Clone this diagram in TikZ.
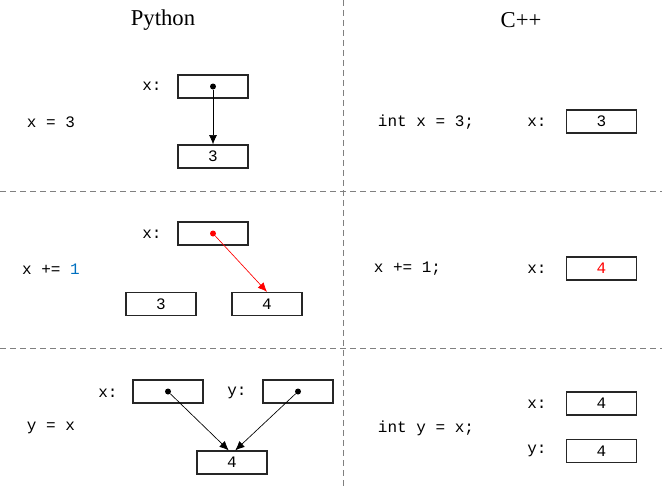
\documentclass[tikz,border=0pt]{standalone}
\usepackage{fontspec}
\setmainfont{Liberation Serif}
\setmonofont{Liberation Mono}
\usetikzlibrary{arrows.meta}

\tikzset{
  cell/.style={draw=black!85, line width=0.9pt, minimum width=52.5pt, minimum height=17.25pt, inner sep=0pt, font=\ttfamily\fontsize{12}{14}\selectfont},
  code/.style={font=\ttfamily\fontsize{12}{14}\selectfont, inner sep=0pt},
  head/.style={font=\fontsize{17}{20}\selectfont, inner sep=0pt},
  dot/.style={circle, fill=black, minimum size=4.5pt, inner sep=0pt},
  ptr/.style={-{Latex[length=7pt,width=6pt]}, line width=0.5pt},
  sep/.style={gray, line width=0.75pt, dash pattern=on 4.5pt off 3pt}
}

\begin{document}
\begin{tikzpicture}[x=0.75pt, y=-0.75pt]
    \useasboundingbox (0,0) rectangle (662,490);

    % separators
    \draw[sep] (343,0) -- (343,490);
    \draw[sep] (0,191) -- (662,191);
    \draw[sep] (0,348) -- (662,348);

    \node[head] (hpy) at (163,20) {Python};
    \node[head] (hcpp) at (521,20) {C++};

    % x = 3
    \node[code] (py1) at (51,122) {x = 3};
    \node[code] (lx1) at (152,86) {x:};
    \node[cell] (px1) at (213,86.5) {};
    \node[cell] (p31) at (213,156.5) {3};
    \node[dot] (dx1) at (px1.center) {};
    \draw[ptr] (dx1) -- (p31.north);

    \node[code] (cp1) at (426,122) {int x = 3;};
    \node[code] (clx1) at (537,122) {x:};
    \node[cell] (cx1) at (601.5,121.5) {3};

    % x += 1
    \node[code] (py2) at (51,269) {x += \textcolor[RGB]{0,112,192}{1}};
    \node[code] (lx2) at (152,234) {x:};
    \node[cell] (px2) at (213,233.5) {};
    \node[cell] (p32) at (161,304) {3};
    \node[cell] (p42) at (267,304) {4};
    \node[dot, fill=red] (dx2) at (px2.center) {};
    \draw[ptr, red] (dx2) -- (p42.north);

    \node[code] (cp2) at (407.5,269) {x += 1;};
    \node[code] (clx2) at (537,269) {x:};
    \node[cell] (cx2) at (601.5,268.5) {\textcolor{red}{4}};

    % y = x
    \node[code] (py3) at (51,428) {y = x};
    \node[code] (lx3) at (108,393) {x:};
    \node[cell] (px3) at (168,391.5) {};
    \node[code] (ly3) at (237,393) {y:};
    \node[cell] (py3b) at (298,391.5) {};
    \node[cell] (p43) at (232,462.5) {4};
    \node[dot] (dx3) at (px3.center) {};
    \node[dot] (dy3) at (py3b.center) {};
    \draw[ptr] (dx3) -- (p43.105);
    \draw[ptr] (dy3) -- (p43.75);

    \node[code] (cp3) at (426,428) {int y = x;};
    \node[code] (clx3) at (537,404) {x:};
    \node[cell] (cx3) at (601.5,403.5) {4};
    \node[code] (cly3) at (537,451) {y:};
    \node[cell] (cy3) at (601.5,451) {4};
\end{tikzpicture}
\end{document}
